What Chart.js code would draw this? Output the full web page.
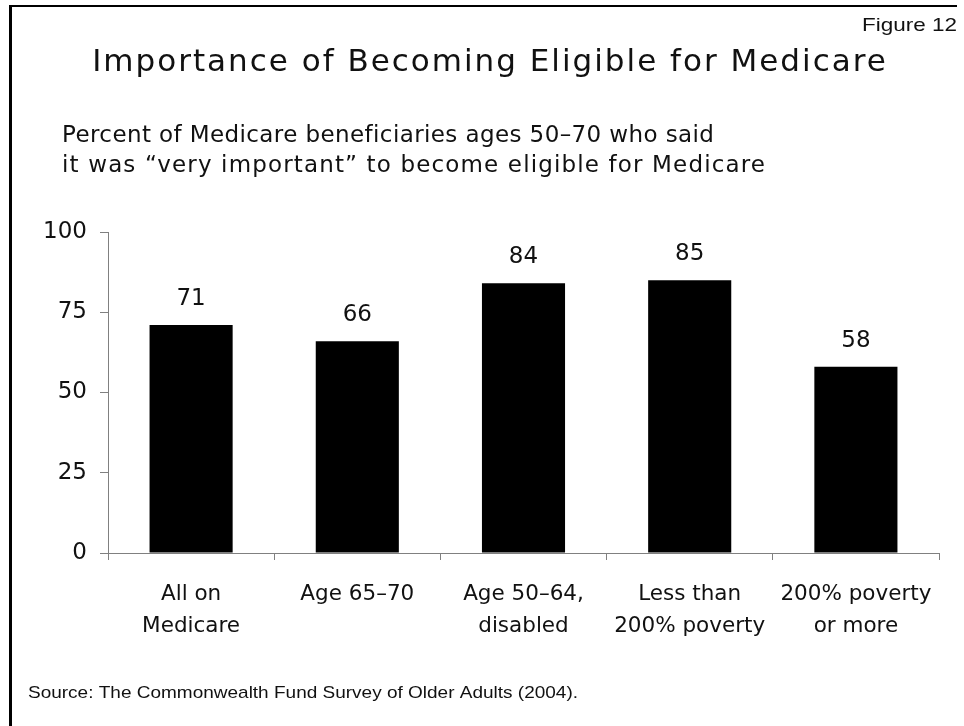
<!DOCTYPE html>
<html>
<head>
<meta charset="utf-8">
<title>Importance of Becoming Eligible for Medicare</title>
<script src="https://cdn.jsdelivr.net/npm/chart.js@4.4.1/dist/chart.umd.min.js"></script>
<style>
  html, body { margin: 0; padding: 0; background: #fff; }
  canvas { display: block; }
</style>
</head>
<body>
<canvas id="myChart" width="964" height="726"></canvas>
<script>
// Survey groups and share saying "very important"
const groups = [
    ['All on', 'Medicare'],
    ['Age 65–70'],
    ['Age 50–64,', 'disabled'],
    ['Less than', '200% poverty'],
    ['200% poverty', 'or more']
];
const veryImportant = [71, 66, 84, 85, 58];
const yTicks = [0, 25, 50, 75, 100];

const titleText = 'Importance of Becoming Eligible for Medicare';
const subtitleLines = [
    'Percent of Medicare beneficiaries ages 50–70 who said',
    'it was “very important” to become eligible for Medicare'
];
const figureLabel = 'Figure 12';
const sourceText = 'Source: The Commonwealth Fund Survey of Older Adults (2004).';

const mainFont = "'DejaVu Sans', Verdana, sans-serif";
const plainFont = "'Liberation Sans', Arial, sans-serif";
const textColor = '#111';
const axisColor = '#808080';

// Draws text squeezed or stretched horizontally to a given width
function fitText(ctx, text, x, y, width, align) {
    const w = ctx.measureText(text).width;
    const sx = width / w;
    ctx.save();
    ctx.textAlign = 'left';
    const left = align === 'right' ? x - width : x;
    ctx.translate(left, y);
    ctx.scale(sx, 1);
    ctx.fillText(text, 0, 0);
    ctx.restore();
}

// Frame, headings and source note
const decorations = {
    id: 'decorations',
    beforeDraw(chart) {
        const ctx = chart.ctx;
        ctx.save();
        ctx.fillStyle = '#fff';
        ctx.fillRect(0, 0, chart.width, chart.height);

        ctx.fillStyle = '#000';
        ctx.fillRect(9, 5, 948, 2);
        ctx.fillRect(9, 5, 3, chart.height - 5);

        ctx.fillStyle = textColor;
        ctx.textBaseline = 'alphabetic';

        ctx.font = '19px ' + plainFont;
        fitText(ctx, figureLabel, 957, 31, 95, 'right');

        ctx.font = '31px ' + mainFont;
        ctx.letterSpacing = '2px';
        ctx.textAlign = 'center';
        ctx.fillText(titleText, 490, 71);

        ctx.font = '23px ' + mainFont;
        ctx.textAlign = 'left';
        ctx.letterSpacing = '0.4px';
        ctx.fillText(subtitleLines[0], 62, 142);
        ctx.letterSpacing = '1.15px';
        ctx.fillText(subtitleLines[1], 62, 172);
        ctx.letterSpacing = '0px';

        ctx.font = '17px ' + plainFont;
        fitText(ctx, sourceText, 28, 698, 550, 'left');
        ctx.restore();
    }
};

// Value above each bar
const barValues = {
    id: 'barValues',
    afterDatasetsDraw(chart) {
        const ctx = chart.ctx;
        const meta = chart.getDatasetMeta(0);
        ctx.save();
        ctx.font = '23px ' + mainFont;
        ctx.fillStyle = textColor;
        ctx.textAlign = 'center';
        ctx.textBaseline = 'alphabetic';
        meta.data.forEach((bar, i) => {
            ctx.fillText(String(veryImportant[i]), bar.x, bar.y - 20);
        });
        ctx.restore();
    }
};

const ctx = document.getElementById('myChart').getContext('2d');

new Chart(ctx, {
    type: 'bar',
    data: {
        labels: groups,
        datasets: [{
            data: veryImportant,
            backgroundColor: '#000',
            borderWidth: 0,
            barPercentage: 0.5,
            categoryPercentage: 1.0
        }]
    },
    options: {
        responsive: false,
        animation: false,
        devicePixelRatio: 1,
        layout: { padding: { top: 232, right: 25, bottom: 0, left: 0 } },
        plugins: {
            legend: { display: false },
            title: { display: false },
            tooltip: { enabled: false }
        },
        scales: {
            x: {
                afterFit: scale => { scale.height = 726 - 553; },
                grid: {
                    offset: true,
                    drawOnChartArea: false,
                    drawTicks: true,
                    tickLength: 7,
                    color: axisColor
                },
                border: { color: axisColor, width: 1 },
                ticks: {
                    autoSkip: false,
                    maxRotation: 0,
                    padding: 18,
                    color: textColor,
                    font: { family: mainFont, size: 21.5, lineHeight: '32px' }
                }
            },
            y: {
                min: 0,
                max: 100,
                afterFit: scale => { scale.width = 108; },
                afterBuildTicks: scale => { scale.ticks = yTicks.map(v => ({ value: v })); },
                grid: {
                    drawOnChartArea: false,
                    drawTicks: true,
                    tickLength: 8,
                    color: axisColor
                },
                border: { color: axisColor, width: 1 },
                ticks: {
                    padding: 13,
                    color: textColor,
                    font: { family: mainFont, size: 23 }
                }
            }
        }
    },
    plugins: [decorations, barValues]
});
</script>
</body>
</html>
